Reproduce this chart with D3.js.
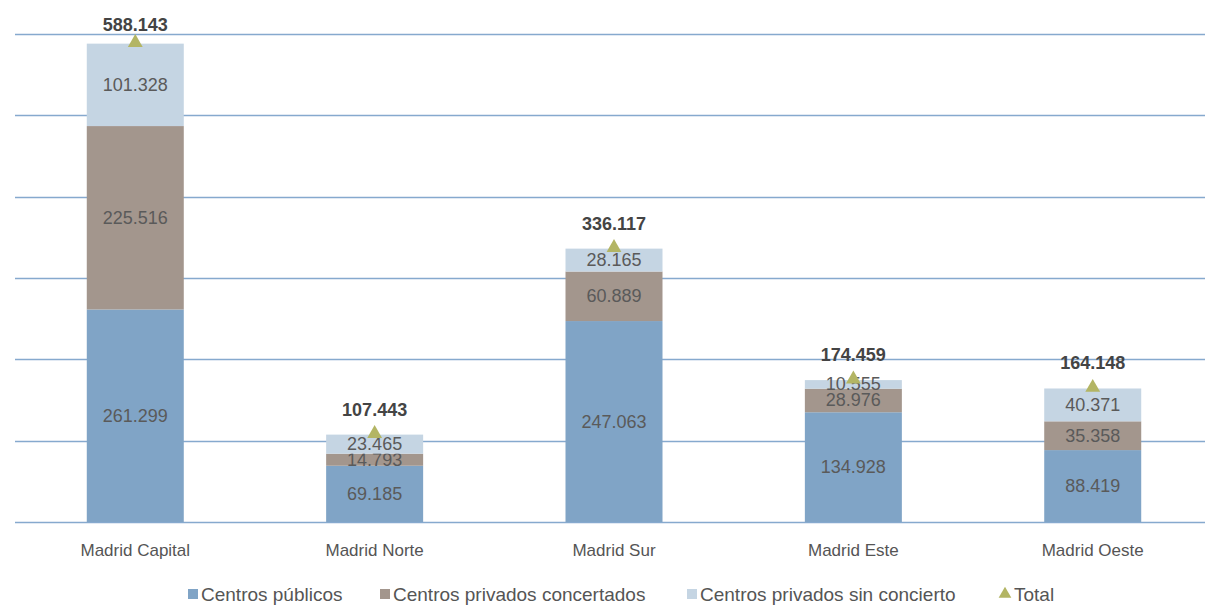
<!DOCTYPE html>
<html>
<head>
<meta charset="utf-8">
<script src="https://cdn.jsdelivr.net/npm/d3@7"></script>
<style>
  html, body { margin: 0; padding: 0; background: #fff; }
  svg { display: block; }
  text { font-family: "Liberation Sans Narrow", "Liberation Sans", Arial, sans-serif; }
</style>
</head>
<body>
<svg id="chart" width="1205" height="605"></svg>
<script>
const categories = ["Madrid Capital", "Madrid Norte", "Madrid Sur", "Madrid Este", "Madrid Oeste"];
const publicos = [261299, 69185, 247063, 134928, 88419];
const concertados = [225516, 14793, 60889, 28976, 35358];
const sinConcierto = [101328, 23465, 28165, 10555, 40371];
const totals = [588143, 107443, 336117, 174459, 164148];
const seriesNames = ["Centros públicos", "Centros privados concertados", "Centros privados sin concierto"];
const yTicks = [0, 100000, 200000, 300000, 400000, 500000, 600000];

const colors = ["#80A4C6", "#A3968D", "#C5D5E3"];
const triColor = "#B3B564";

const svg = d3.select("#chart");
const x = d3.scaleBand().domain(categories).range([15, 1213]).paddingInner(0.595).paddingOuter(0.3);
const y = d3.scaleLinear().domain([0, 600000]).range([522, 34]);

const fmt = v => d3.format(",")(v).replace(/,/g, ".");

// gridlines
svg.append("g").selectAll("line").data(yTicks).join("line")
  .attr("x1", 15).attr("x2", 1205)
  .attr("y1", d => Math.round(y(d)) + 0.5).attr("y2", d => Math.round(y(d)) + 0.5)
  .attr("stroke", "#86A9CE").attr("stroke-width", 1.5);

const data = categories.map((c, i) => ({cat: c, s0: publicos[i], s1: concertados[i], s2: sinConcierto[i], total: totals[i]}));
const stack = d3.stack().keys(["s0", "s1", "s2"])(data);

const bw = 97;
stack.forEach((layer, li) => {
  const g = svg.append("g");
  g.selectAll("rect").data(layer).join("rect")
    .attr("x", d => x(d.data.cat) + x.bandwidth() / 2 - bw / 2)
    .attr("width", bw)
    .attr("y", d => y(d[1]))
    .attr("height", d => y(d[0]) - y(d[1]))
    .attr("fill", colors[li]);
  g.selectAll("text").data(layer).join("text")
    .attr("x", d => x(d.data.cat) + x.bandwidth() / 2)
    .attr("y", d => (y(d[0]) + y(d[1])) / 2 + 6)
    .attr("text-anchor", "middle")
    .attr("font-size", 18)
    .attr("fill", "#5a5a5a")
    .text(d => fmt(d[1] - d[0]));
});

// total markers
const tri = d3.symbol().type(d3.symbolTriangle).size(95);
svg.append("g").selectAll("path").data(data).join("path")
  .attr("transform", d => `translate(${x(d.cat) + x.bandwidth() / 2},${y(d.total) - 1})`)
  .attr("d", tri)
  .attr("fill", triColor);

svg.append("g").selectAll("text").data(data).join("text")
  .attr("x", d => x(d.cat) + x.bandwidth() / 2)
  .attr("y", d => Math.max(31, y(d.total) - 19))
  .attr("text-anchor", "middle")
  .attr("font-size", 18)
  .attr("font-weight", "bold")
  .attr("fill", "#444")
  .text(d => fmt(d.total));

// x axis labels
svg.append("g").selectAll("text").data(categories).join("text")
  .attr("x", d => x(d) + x.bandwidth() / 2)
  .attr("y", 556)
  .attr("text-anchor", "middle")
  .attr("font-size", 17)
  .attr("fill", "#555")
  .text(d => d);

// legend
const legend = svg.append("g");
const legX = [188, 380, 687];
seriesNames.forEach((n, i) => {
  legend.append("rect").attr("x", legX[i]).attr("y", 589).attr("width", 10).attr("height", 10).attr("fill", colors[i]);
  legend.append("text").attr("x", legX[i] + 13).attr("y", 601).attr("font-size", 19).attr("fill", "#555").text(n);
});
legend.append("path").attr("transform", "translate(1005,594)").attr("d", d3.symbol().type(d3.symbolTriangle).size(70)).attr("fill", triColor);
legend.append("text").attr("x", 1014).attr("y", 601).attr("font-size", 19).attr("fill", "#555").text("Total");
</script>
</body>
</html>
